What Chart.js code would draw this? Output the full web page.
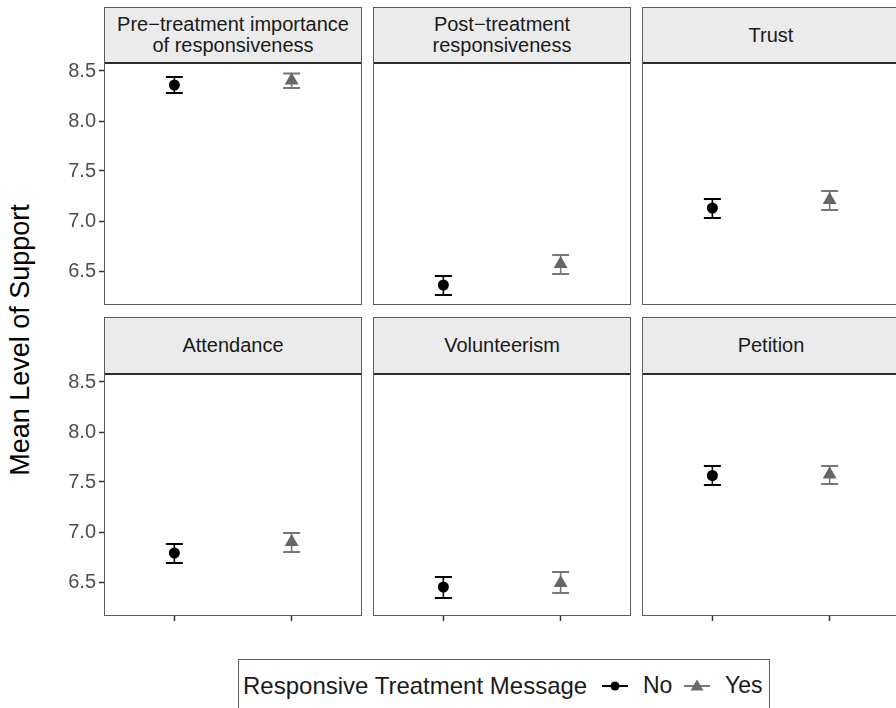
<!DOCTYPE html>
<html>
<head>
<meta charset="utf-8">
<script src="https://cdn.jsdelivr.net/npm/chart.js@4.4.0/dist/chart.umd.min.js"></script>
<style>
  body { margin: 0; width: 896px; height: 708px; background: #fff; position: relative; overflow: hidden;
         font-family: "Liberation Sans", Arial, Helvetica, sans-serif; }
  canvas { position: absolute; }
  .panel { position: absolute; box-sizing: border-box; border: 1.5px solid #5c5c5c; pointer-events: none; z-index: 2; }
  .strip { position: absolute; left: 0; right: 0; top: 0; box-sizing: border-box; background: #ebebeb;
           border-bottom: 2px solid #2b2b2b; display: flex; align-items: center; justify-content: center;
           text-align: center; font-size: 20px; line-height: 21px; color: #1a1a1a; white-space: pre; }
  #ytitle { position: absolute; left: 20px; top: 340px; transform: translate(-50%, -50%) rotate(-90deg);
            font-size: 27px; white-space: nowrap; color: #000; }
  #legend { position: absolute; left: 238px; top: 659px; width: 532px; height: 70px; box-sizing: border-box;
            border: 1.5px solid #5c5c5c; }
  #legend span { position: absolute; top: 13px; font-size: 23px; line-height: 25px; color: #1a1a1a; white-space: nowrap; }
  #legend span.lt { font-size: 24px; }
  #legend svg { position: absolute; top: 19px; }
</style>
</head>
<body>
<div id="ytitle">Mean Level of Support</div>
<div id="legend">
  <span class="lt" style="left:4px">Responsive Treatment Message</span>
  <svg style="left:362px" width="28" height="14"><line x1="1" y1="7" x2="27" y2="7" stroke="#000" stroke-width="2"/><circle cx="14" cy="7" r="4.5" fill="#000"/></svg>
  <span style="left:404px">No</span>
  <svg style="left:444px" width="28" height="14"><line x1="1" y1="7" x2="27" y2="7" stroke="#7a7a7a" stroke-width="2"/><polygon points="14,0.5 20.5,11.5 7.5,11.5" fill="#6b6b6b"/></svg>
  <span style="left:486px">Yes</span>
</div>
<script>
// facet labels (ggplot draws the hyphen as a minus sign)
const facetTitles = [
  "Pre\u2212treatment importance\nof responsiveness",
  "Post\u2212treatment\nresponsiveness",
  "Trust",
  "Attendance",
  "Volunteerism",
  "Petition"
];

// x positions of the two groups: No = 1, Yes = 2
const groupX = [1, 2];

// means and error bar ends, one value per facet
const meanNo  = [8.36, 6.36, 7.13, 6.79, 6.45, 7.565];
const lowNo   = [8.28, 6.26, 7.03, 6.69, 6.34, 7.47];
const highNo  = [8.44, 6.45, 7.22, 6.88, 6.55, 7.66];
const meanYes = [8.405, 6.57, 7.21, 6.90, 6.49, 7.575];
const lowYes  = [8.33, 6.47, 7.11, 6.80, 6.39, 7.48];
const highYes = [8.475, 6.66, 7.30, 6.99, 6.60, 7.66];

const yTicks = [6.5, 7.0, 7.5, 8.0, 8.5];

// layout of the 2 x 3 facet grid
const colLeft = [104, 373, 642];
const colW = 258;
const stripTop = [7, 317];
const plotTop = [62, 373];
const plotH = 243;
const yAxisW = 60;
const xAxisH = 8;
const pad = 14;   // room above/below so tick labels don't push the plot area
const font = "'Liberation Sans', Arial, Helvetica, sans-serif";

function groupSets(x, mean, lo, hi, pointColor, barColor, style, radius) {
  return [
    { data: [{ x: x, y: mean }], pointStyle: style, pointRadius: radius,
      pointBackgroundColor: pointColor, pointBorderColor: pointColor, pointBorderWidth: 0 },
    // whisker
    { data: [{ x: x, y: lo }, { x: x, y: hi }], showLine: true, borderColor: barColor,
      borderWidth: 1.6, pointRadius: 0 },
    // caps
    { data: [{ x: x, y: lo }, { x: x, y: hi }], pointStyle: "line", pointRadius: 8.5,
      pointBorderColor: barColor, pointBorderWidth: 2 }
  ];
}

facetTitles.forEach((title, i) => {
  const row = Math.floor(i / 3);
  const col = i % 3;

  // panel frame and strip
  const panel = document.createElement("div");
  panel.className = "panel";
  panel.style.left = colLeft[col] + "px";
  panel.style.top = stripTop[row] + "px";
  panel.style.width = colW + "px";
  panel.style.height = (plotTop[row] + plotH - stripTop[row]) + "px";
  const strip = document.createElement("div");
  strip.className = "strip";
  strip.style.height = (plotTop[row] - stripTop[row] + 1) + "px";
  strip.textContent = title;
  panel.appendChild(strip);
  document.body.appendChild(panel);

  // chart canvas
  const canvas = document.createElement("canvas");
  const left = colLeft[col] - (col === 0 ? yAxisW : 0);
  const w = colW + (col === 0 ? yAxisW : 0);
  const h = pad + plotH + (row === 1 ? xAxisH : 0) + pad;
  canvas.width = w;
  canvas.height = h;
  canvas.style.left = left + "px";
  canvas.style.top = (plotTop[row] - pad) + "px";
  canvas.style.width = w + "px";
  canvas.style.height = h + "px";
  document.body.appendChild(canvas);

  new Chart(canvas, {
    type: "scatter",
    data: {
      datasets: [
        ...groupSets(groupX[0], meanNo[i], lowNo[i], highNo[i], "#000000", "#000000", "circle", 5.5),
        ...groupSets(groupX[1], meanYes[i], lowYes[i], highYes[i], "#666666", "#777777", "triangle", 8)
      ]
    },
    options: {
      responsive: false,
      animation: false,
      events: [],
      layout: { autoPadding: false, padding: { top: pad, bottom: pad, left: 0, right: 0 } },
      plugins: { legend: { display: false }, tooltip: { enabled: false } },
      scales: {
        x: {
          type: "linear",
          display: row === 1,
          min: 0.4,
          max: 2.6,
          afterBuildTicks: s => { s.ticks = groupX.map(v => ({ value: v })); },
          ticks: { display: false },
          grid: { drawOnChartArea: false, drawTicks: true, tickLength: 5, color: "#333", tickWidth: 1.5 },
          border: { display: false },
          afterFit: s => {
            if (row === 1) s.height = xAxisH;
            s.paddingLeft = 0; s.paddingRight = 0;
          }
        },
        y: {
          type: "linear",
          display: col === 0,
          min: 6.16,
          max: 8.59,
          afterBuildTicks: s => { s.ticks = yTicks.map(v => ({ value: v })); },
          ticks: {
            color: "#4d4d4d",
            padding: 3,
            font: { size: 20, family: font },
            callback: v => v.toFixed(1)
          },
          grid: { drawOnChartArea: false, tickLength: 5, color: "#333", tickWidth: 1.5 },
          border: { display: false },
          afterFit: s => {
            if (col === 0) s.width = yAxisW;
            s.paddingTop = 0; s.paddingBottom = 0;
          }
        }
      }
    }
  });
});
</script>
</body>
</html>
